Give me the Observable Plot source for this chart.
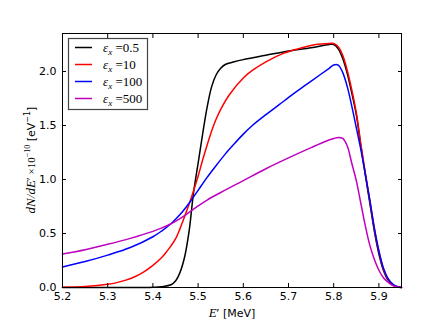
<!DOCTYPE html>
<html>
<head>
<meta charset="utf-8">
<script src="https://cdn.jsdelivr.net/npm/d3@7"></script>
<script src="https://cdn.jsdelivr.net/npm/@observablehq/plot@0.6"></script>
<style>
  html, body { margin: 0; padding: 0; background: #fff; }
  svg { display: block; }
</style>
</head>
<body>
<div id="chart"></div>
<script>
// Data
const seriesLabels = ["0.5", "10", "100", "500"];
const seriesColors = ["#000000", "#ff0000", "#0000ff", "#bf00bf"];

const energyBlack = [5.20,5.38,5.40,5.42,5.44,5.45,5.46,5.47,5.48,5.49,5.50,5.51,5.52,5.53,5.54,5.55,5.56,5.58,5.60,5.65,5.70,5.75,5.79,5.80,5.81,5.82,5.83,5.84,5.85,5.86,5.87,5.88,5.89,5.90,5.91,5.92,5.93,5.94,5.95];
const valuesBlack = [0,0,0.002,0.008,0.025,0.06,0.14,0.28,0.52,0.88,1.15,1.42,1.67,1.86,1.97,2.03,2.065,2.09,2.11,2.15,2.19,2.22,2.25,2.25,2.21,2.12,1.98,1.80,1.60,1.31,1.04,0.78,0.52,0.31,0.16,0.07,0.025,0.007,0];

const energyRed = [5.20,5.25,5.30,5.32,5.34,5.36,5.38,5.40,5.42,5.43,5.44,5.45,5.46,5.47,5.48,5.49,5.50,5.51,5.52,5.53,5.54,5.55,5.57,5.60,5.62,5.65,5.69,5.73,5.76,5.79,5.80,5.81,5.82,5.83,5.84,5.85,5.86,5.87,5.88,5.89,5.90,5.91,5.92,5.93,5.94,5.95];
const valuesRed = [0.003,0.01,0.03,0.045,0.068,0.10,0.145,0.205,0.28,0.33,0.385,0.45,0.545,0.655,0.77,0.895,1.03,1.18,1.32,1.45,1.56,1.65,1.79,1.94,2.01,2.09,2.17,2.22,2.25,2.26,2.26,2.23,2.15,2.01,1.83,1.62,1.33,1.06,0.80,0.54,0.33,0.17,0.08,0.03,0.008,0];

const energyBlue = [5.20,5.25,5.30,5.35,5.40,5.42,5.44,5.46,5.48,5.50,5.52,5.54,5.56,5.58,5.60,5.62,5.65,5.68,5.71,5.74,5.77,5.79,5.80,5.81,5.82,5.83,5.84,5.85,5.86,5.87,5.88,5.89,5.90,5.91,5.92,5.93,5.94,5.95];
const valuesBlue = [0.19,0.24,0.30,0.37,0.47,0.525,0.59,0.675,0.78,0.90,1.02,1.13,1.235,1.33,1.42,1.50,1.60,1.695,1.79,1.88,1.97,2.03,2.06,2.06,1.99,1.86,1.68,1.48,1.28,1.05,0.81,0.55,0.34,0.18,0.085,0.035,0.01,0];

const energyMagenta = [5.20,5.25,5.30,5.35,5.40,5.42,5.44,5.46,5.48,5.50,5.52,5.55,5.60,5.65,5.70,5.75,5.78,5.80,5.81,5.82,5.83,5.84,5.85,5.86,5.87,5.88,5.89,5.90,5.91,5.92,5.93,5.94,5.95];
const valuesMagenta = [0.31,0.35,0.40,0.455,0.52,0.552,0.59,0.638,0.695,0.755,0.81,0.88,0.99,1.10,1.20,1.295,1.35,1.38,1.39,1.38,1.31,1.15,0.99,0.78,0.57,0.39,0.26,0.16,0.09,0.05,0.02,0.005,0];

const xTicks = [5.2,5.3,5.4,5.5,5.6,5.7,5.8,5.9];
const yTicks = [0.0,0.5,1.0,1.5,2.0];

const energies = [energyBlack, energyRed, energyBlue, energyMagenta];
const values = [valuesBlack, valuesRed, valuesBlue, valuesMagenta];
const rows = energies.map((es, i) => es.map((e, j) => ({E: e, v: values[i][j]})));

const W = 446, H = 334;
const mL = 62, mR = 45, mT = 33, mB = 47;

const fmt = d3.format(".1f");
const plot = Plot.plot({
  width: W, height: H,
  marginLeft: mL, marginRight: mR, marginTop: mT, marginBottom: mB,
  style: {fontFamily: "DejaVu Sans", fontSize: "11px", color: "black", background: "white"},
  x: {domain: [5.2, 5.95]},
  y: {domain: [0, 2.352]},
  marks: [
    ...rows.map((r, i) => Plot.line(r, {x: "E", y: "v", stroke: seriesColors[i], strokeWidth: 1.5, curve: "catmull-rom"})),
    Plot.axisX(xTicks, {anchor: "bottom", tickSize: -4, tickPadding: 9, tickFormat: fmt, label: null, fontSize: 11}),
    Plot.axisX(xTicks, {anchor: "top", tickSize: -4, tickFormat: () => "", label: null}),
    Plot.axisY(yTicks, {anchor: "left", tickSize: -4, tickPadding: 10, tickFormat: fmt, label: null, fontSize: 11}),
    Plot.axisY(yTicks, {anchor: "right", tickSize: -4, tickFormat: () => "", label: null}),
    Plot.frame({stroke: "black", strokeWidth: 1})
  ]
});
document.getElementById("chart").appendChild(plot);

const svg = d3.select(plot);
const serif = "Liberation Serif";

// x label
const xl = svg.append("text").attr("x", 232).attr("y", 317).attr("text-anchor", "middle")
  .attr("font-family", "DejaVu Sans").attr("font-size", 11).attr("fill", "black");
xl.append("tspan").attr("font-family", serif).attr("font-style", "italic").attr("font-size", 13).text("E");
xl.append("tspan").attr("font-family", serif).attr("font-size", 13).text("′");
xl.append("tspan").text(" [MeV]");

// y label
const yl = svg.append("text").attr("transform", "translate(35,160) rotate(-90)")
  .attr("text-anchor", "middle").attr("font-family", "DejaVu Sans").attr("font-size", 11).attr("fill", "black");
yl.append("tspan").attr("font-family", serif).attr("font-style", "italic").attr("font-size", 13).text("dN/dE");
yl.append("tspan").attr("font-family", serif).attr("font-size", 13).text("′");
yl.append("tspan").attr("font-family", serif).attr("font-size", 11).text(" ×10");
yl.append("tspan").attr("font-family", serif).attr("font-size", 8).attr("dy", -5).text("−10");
yl.append("tspan").attr("dy", 5).text(" [eV");
yl.append("tspan").attr("font-size", 8).attr("dy", -5).text("−1");
yl.append("tspan").attr("dy", 5).text("]");

// legend
const lg = svg.append("g").attr("text-anchor", "start");
lg.append("rect").attr("x", 68.5).attr("y", 38.5).attr("width", 79).attr("height", 71)
  .attr("fill", "white").attr("stroke", "#444").attr("stroke-width", 1.2);
seriesLabels.forEach((lab, i) => {
  const y = 47.5 + i * 17;
  lg.append("line").attr("x1", 75).attr("x2", 92).attr("y1", y).attr("y2", y)
    .attr("stroke", seriesColors[i]).attr("stroke-width", 1.5);
  const t = lg.append("text").attr("x", 103).attr("y", y + 4).attr("text-anchor", "start")
    .attr("font-family", serif).attr("font-size", 13).attr("fill", "black");
  t.append("tspan").attr("font-style", "italic").text("ε");
  t.append("tspan").attr("font-style", "italic").attr("font-size", 9).attr("dy", 3).text("x");
  t.append("tspan").attr("dy", -3).text(" =" + lab);
});
</script>
</body>
</html>
